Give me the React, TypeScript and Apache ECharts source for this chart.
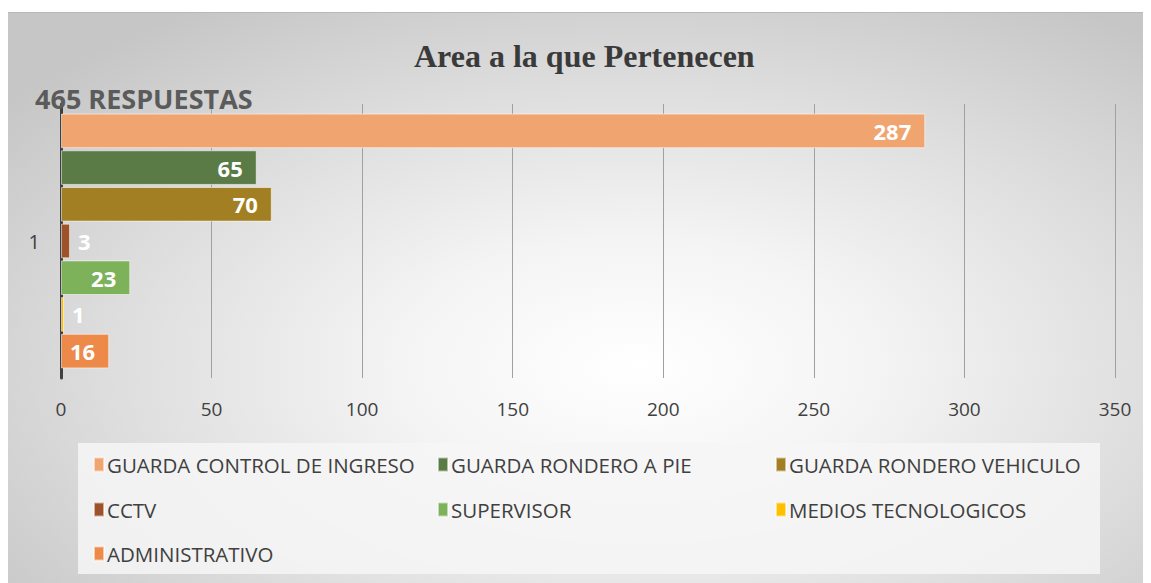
import React, { useEffect, useRef } from "react";
import * as echarts from "echarts";

const categories = ["1"];
const seriesNames = [
  "GUARDA CONTROL DE INGRESO",
  "GUARDA RONDERO A PIE",
  "GUARDA RONDERO VEHICULO",
  "CCTV",
  "SUPERVISOR",
  "MEDIOS TECNOLOGICOS",
  "ADMINISTRATIVO",
];
const seriesValues = [287, 65, 70, 3, 23, 1, 16];
const seriesColors = ["#F0A470", "#5A7B46", "#A27F22", "#9E5229", "#7DB25B", "#FFC000", "#EE8A49"];
const xTicks = [0, 50, 100, 150, 200, 250, 300, 350];
const titleText = "Area a la que Pertenecen";
const noteText = "465 RESPUESTAS";

const legendCols = [80, 424, 762];
const legendRows = [436, 481, 525];

export default function App() {
  const ref = useRef<HTMLDivElement>(null);
  useEffect(() => {
    if (!ref.current) return;
    const chart = echarts.init(ref.current, null, { renderer: "svg" });
    const font = "'Open Sans', 'Noto Sans', sans-serif";
    chart.setOption({
      animation: false,
      title: {
        text: titleText,
        left: 401,
        top: 22,
        textStyle: { fontFamily: "'Liberation Serif', serif", fontSize: 32, fontWeight: "bold", color: "#3a3a3a" },
      },
      graphic: [
        {
          type: "rect",
          shape: { x: 70, y: 430, width: 1022, height: 131 },
          style: { fill: "rgba(246,246,246,0.85)" },
          z: -1,
        },
        {
          type: "text",
          left: 27,
          top: 72,
          style: { text: noteText, fontFamily: font, fontSize: 27, fontWeight: "bold", fill: "#5b5b5b" },
          z: 10,
        },
      ],
      legend: seriesNames.map((n, i) => ({
        data: [n],
        left: legendCols[i % 3],
        top: legendRows[Math.floor(i / 3)],
        itemWidth: 10,
        itemHeight: 14,
        itemGap: 5,
        icon: "rect",
        textStyle: { fontFamily: font, fontSize: 20.5, color: "#404040", padding: [0, 0, 0, -2] },
      })),
      grid: { left: 53, right: 36, top: 91, bottom: 205, containLabel: false },
      xAxis: {
        type: "value",
        min: xTicks[0],
        max: xTicks[xTicks.length - 1],
        interval: 50,
        axisLine: { show: false },
        axisTick: { show: false },
        axisLabel: { fontFamily: font, fontSize: 19, color: "#404040", margin: 21 },
        splitLine: { lineStyle: { color: "#a0a0a0", width: 1 } },
      },
      yAxis: {
        type: "category",
        data: categories,
        inverse: true,
        axisLine: { lineStyle: { color: "#404040", width: 3 } },
        axisTick: { show: false },
        axisLabel: { fontFamily: font, fontSize: 20, color: "#404040", margin: 21 },
      },
      series: seriesNames.map((n, i) => ({
        name: n,
        type: "bar",
        data: [seriesValues[i]],
        barGap: "6%",
        barCategoryGap: "7%",
        itemStyle: { color: seriesColors[i], borderColor: "rgba(255,255,255,0.55)", borderWidth: 1 },
        label: {
          show: true,
          position: seriesValues[i] < 5 ? "right" : "insideRight",
          distance: seriesValues[i] < 5 ? 8 : 14,
          fontFamily: font,
          fontSize: 22,
          fontWeight: "bold",
          color: "#ffffff",
        },
      })),
    });
    return () => chart.dispose();
  }, []);
  return (
    <div
      ref={ref}
      style={{
        width: 1143,
        height: 571,
        marginTop: 4,
        background:
          "radial-gradient(ellipse 70% 75% at 55% 62%, #ffffff 0%, #f4f4f4 30%, #dedede 65%, #c6c6c6 100%)",
        borderTop: "1px solid #b8b8b8",
        boxSizing: "border-box",
      }}
    />
  );
}
